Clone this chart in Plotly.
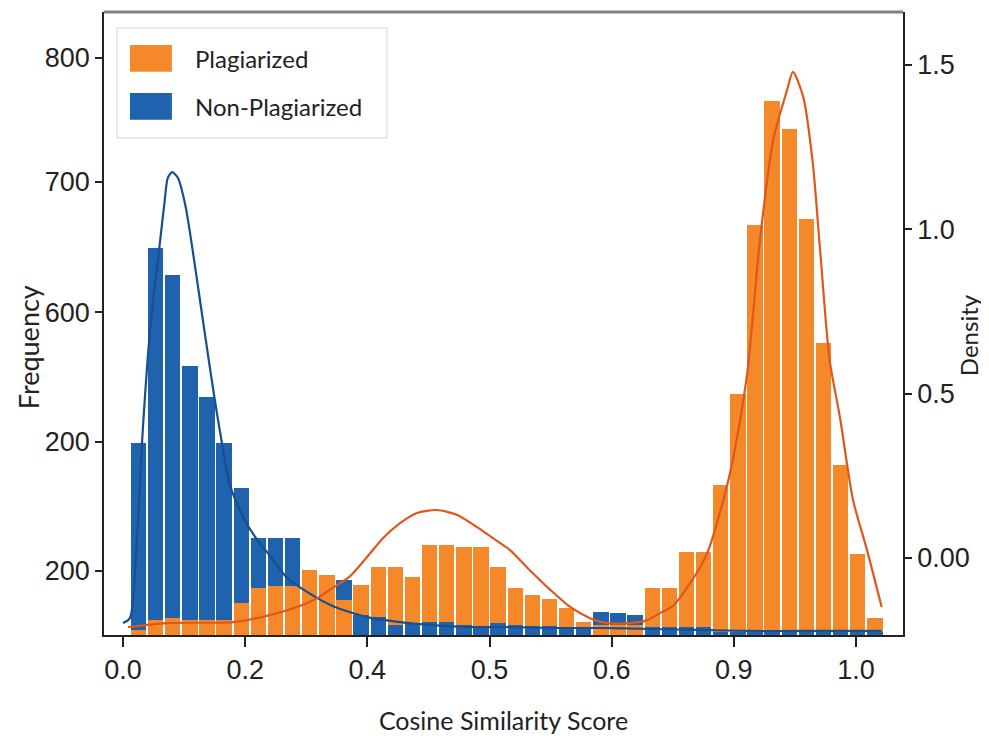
import numpy as np
import plotly.graph_objects as go

# ---------------- data ----------------
x_tick_positions = [0, 1/6, 2/6, 3/6, 4/6, 5/6, 1]
x_tick_labels = ["0.0", "0.2", "0.4", "0.5", "0.6", "0.9", "1.0"]

freq_tick_values = [50, 151, 252, 354, 451]
freq_tick_labels = ["200", "200", "600", "700", "800"]

density_tick_values = [0, 0.5, 1.0, 1.5]
density_tick_labels = ["0.00", "0.5", "1.0", "1.5"]

bin_start = 0.0095
bin_width = 0.02336

plagiarized_counts = [4, 12, 13, 12, 12, 12, 25, 37, 38, 38, 51, 47, 27, 39, 53, 53, 45, 70, 70, 69,
                      69, 53, 37, 31, 28, 21, 10, 8, 8, 8, 37, 37, 65, 65, 117, 188, 320, 417, 395, 325,
                      228, 133, 63, 13]
non_plagiarized_counts = [150, 302, 281, 210, 186, 150, 115, 76, 76, 76, 0, 0, 43, 16, 14, 8, 9, 10, 10, 8,
                          7, 9, 8, 7, 7, 6, 6, 18, 17, 16, 6, 6, 6, 6, 2, 2, 2, 2, 2, 2,
                          2, 2, 2, 2]

kde_non_x = [0.000, 0.0095, 0.019, 0.027, 0.037, 0.046, 0.050, 0.057, 0.061, 0.067,
             0.075, 0.085, 0.094, 0.105, 0.119, 0.132, 0.146, 0.164, 0.183, 0.201,
             0.224, 0.251, 0.286, 0.333, 0.378, 0.423, 0.469, 0.514, 0.583, 0.651,
             0.719, 0.787, 0.855, 0.924, 1.035]
kde_non_y = [-0.198, -0.183, 0.055, 0.389, 0.694, 0.876, 0.952, 1.089, 1.156, 1.174,
             1.156, 1.074, 0.952, 0.785, 0.572, 0.389, 0.222, 0.125, 0.055, 0.006,
             -0.061, -0.103, -0.146, -0.180, -0.195, -0.204, -0.210, -0.210, -0.213, -0.213,
             -0.216, -0.219, -0.222, -0.222, -0.222]

kde_plag_x = [0.0068, 0.060, 0.150, 0.196, 0.241, 0.265, 0.286, 0.310, 0.333, 0.355,
              0.378, 0.401, 0.428, 0.456, 0.483, 0.514, 0.528, 0.555, 0.583, 0.610,
              0.637, 0.660, 0.692, 0.715, 0.733, 0.750, 0.774, 0.797, 0.819, 0.832,
              0.851, 0.869, 0.887, 0.906, 0.914, 0.928, 0.941, 0.951, 0.964, 0.978,
              0.996, 1.015, 1.035]
kde_plag_y = [-0.210, -0.198, -0.195, -0.176, -0.146, -0.122, -0.091, -0.055, 0.003, 0.061,
              0.106, 0.137, 0.146, 0.131, 0.094, 0.046, 0.024, -0.037, -0.097, -0.149,
              -0.183, -0.198, -0.198, -0.189, -0.167, -0.146, -0.076, 0.015, 0.176, 0.298,
              0.551, 0.968, 1.272, 1.424, 1.479, 1.403, 1.202, 0.937, 0.602, 0.429,
              0.176, 0.024, -0.149]

series_names = ["Plagiarized", "Non-Plagiarized"]
x_title = "Cosine Similarity Score"
y_title = "Frequency"
y2_title = "Density"

# ---------------- styling ----------------
PLAG_COLOR = "#F5892A"
NON_COLOR = "#1F63AF"
PLAG_LINE = "#E0561C"
NON_LINE = "#174F8F"
TICK_FONT = dict(family="Liberation Sans Narrow, Liberation Sans, Arial", size=27, color="#222222")
TEXT_FONT = "Lato, Open Sans, sans-serif"

p = np.array(plagiarized_counts, dtype=float)
n = np.array(non_plagiarized_counts, dtype=float)
centers = bin_start + (np.arange(len(p)) + 0.5) * bin_width

# taller bar of each bin behind, shorter one in front
back_vals = np.maximum(p, n)
front_vals = np.minimum(p, n)
back_cols = np.where(p >= n, PLAG_COLOR, NON_COLOR)
front_cols = np.where(p >= n, NON_COLOR, PLAG_COLOR)

fig = go.Figure()
fig.add_trace(go.Bar(x=centers, y=back_vals, width=bin_width * 0.9,
                     marker=dict(color=list(back_cols), line=dict(width=0)),
                     showlegend=False, hoverinfo="skip"))
fig.add_trace(go.Bar(x=centers, y=front_vals, width=bin_width * 0.9,
                     marker=dict(color=list(front_cols), line=dict(width=0)),
                     showlegend=False, hoverinfo="skip"))

fig.add_trace(go.Scatter(x=kde_non_x, y=kde_non_y, mode="lines", yaxis="y2",
                         name=series_names[1], showlegend=False,
                         line=dict(color=NON_LINE, width=2.2, shape="spline", smoothing=0.7)))
fig.add_trace(go.Scatter(x=kde_plag_x, y=kde_plag_y, mode="lines", yaxis="y2",
                         name=series_names[0], showlegend=False,
                         line=dict(color=PLAG_LINE, width=2.2, shape="spline", smoothing=0.7)))

fig.update_layout(
    width=981, height=739,
    margin=dict(l=96, r=86, t=4, b=112, autoexpand=False),
    paper_bgcolor="white", plot_bgcolor="white",
    barmode="overlay", bargap=0,
    xaxis=dict(range=[-0.0259, 1.0641], tickmode="array",
               tickvals=x_tick_positions, ticktext=x_tick_labels,
               ticks="outside", ticklen=10, tickwidth=1.5, tickcolor="#222",
               showline=True, linecolor="#222", linewidth=1.8,
               showgrid=False, zeroline=False, tickfont=TICK_FONT,
               title=dict(text=x_title, standoff=28,
                          font=dict(family=TEXT_FONT, size=25, color="#222"))),
    yaxis=dict(range=[0, 486.7], tickmode="array",
               tickvals=freq_tick_values, ticktext=freq_tick_labels,
               ticks="outside", ticklen=7, tickwidth=1.5, tickcolor="#222",
               showline=True, linecolor="#222", linewidth=1.8,
               showgrid=False, zeroline=False, tickfont=TICK_FONT),
    yaxis2=dict(overlaying="y", side="right", range=[-0.2343, 1.6613], tickmode="array",
                tickvals=density_tick_values, ticktext=density_tick_labels,
                ticks="outside", ticklen=7, tickwidth=1.5, tickcolor="#222",
                showline=True, linecolor="#222", linewidth=1.8,
                showgrid=False, zeroline=False, tickfont=TICK_FONT),
)

# vertical axis titles
fig.add_annotation(xref="paper", yref="paper", x=-0.0951, y=0.462, text=y_title,
                   textangle=-90, showarrow=False, xanchor="center", yanchor="middle",
                   font=dict(family=TEXT_FONT, size=27, color="#222"))
fig.add_annotation(xref="paper", yref="paper", x=1.0815, y=0.4815, text=y2_title,
                   textangle=-90, showarrow=False, xanchor="center", yanchor="middle",
                   font=dict(family=TEXT_FONT, size=24, color="#222"))

# top frame line
fig.add_shape(type="line", xref="paper", yref="paper", x0=0, x1=1, y0=1, y1=1,
              line=dict(color="#808080", width=3))

# legend box
fig.add_shape(type="rect", xref="paper", yref="paper", x0=0.0163, x1=0.354, y0=0.798, y1=0.974,
              line=dict(color="#DDDDDD", width=1.2), fillcolor="rgba(255,255,255,0.85)")
legend_rows = [(series_names[0], PLAG_COLOR, 0.904, 0.947),
               (series_names[1], NON_COLOR, 0.827, 0.870)]
for name, col, y0, y1 in legend_rows:
    fig.add_shape(type="rect", xref="paper", yref="paper", x0=0.0325, x1=0.085, y0=y0, y1=y1,
                  line=dict(width=0), fillcolor=col)
    fig.add_annotation(xref="paper", yref="paper", x=0.111, y=(y0 + y1) / 2, text=name,
                       showarrow=False, xanchor="left", yanchor="middle",
                       font=dict(family=TEXT_FONT, size=24, color="#222"))

fig.write_html("out.html")
